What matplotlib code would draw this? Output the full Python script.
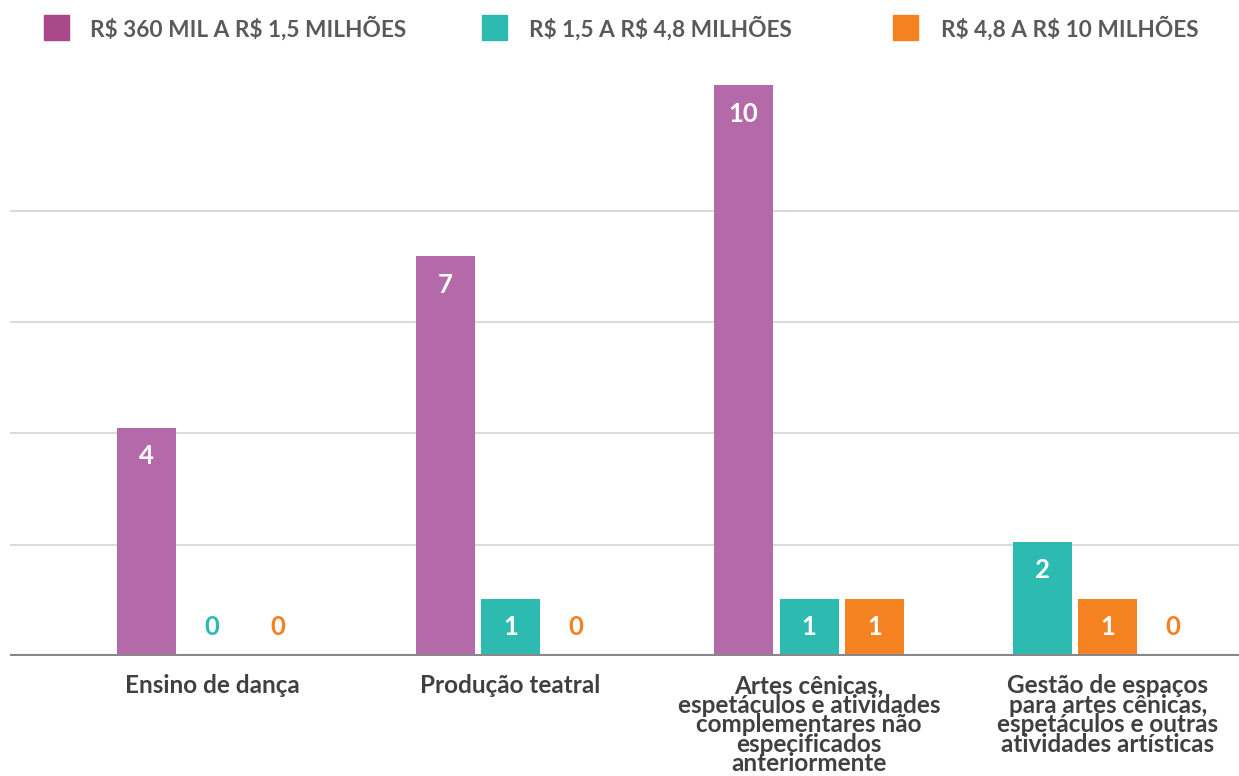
import numpy as np
import matplotlib
matplotlib.use("Agg")
import matplotlib.pyplot as plt
from matplotlib.patches import Rectangle

plt.rcParams['font.family'] = ['Lato', 'DejaVu Sans']

# data, as drawn slot by slot in each group
categories = [
    "Ensino de dança",
    "Produção teatral",
    "Artes cênicas,\nespetáculos e atividades\ncomplementares não\nespecificados\nanteriormente",
    "Gestão de espaços\npara artes cênicas,\nespetáculos e outras\natividades artísticas",
]
series_names = ["R$ 360 MIL A R$ 1,5 MILHÕES", "R$ 1,5 A R$ 4,8 MILHÕES", "R$ 4,8 A R$ 10 MILHÕES"]
slot1 = [4, 7, 10, 2]
slot2 = [0, 1, 1, 1]
slot3 = [0, 0, 1, 0]

purple = "#b46aa8"
purple_dark = "#a8478a"
teal = "#2dbbb1"
orange = "#f58220"

# colour of each slot per group (last group is shifted in the source chart)
slot1_colors = [purple, purple, purple, teal]
slot2_colors = [teal, teal, teal, orange]
slot3_colors = [orange, orange, orange, orange]

grid_values = [1.95, 3.9, 5.85, 7.8]

fig = plt.figure(figsize=(12.39, 7.76), dpi=100)
ax = fig.add_axes([10 / 1239, 120 / 776, 1229 / 1239, 596 / 776])

x = np.arange(len(categories))
step = 0.2194
width = 0.1977

for off, vals, cols in [(-step, slot1, slot1_colors), (0, slot2, slot2_colors), (step, slot3, slot3_colors)]:
    ax.bar(x + off, vals, width=width, color=cols, zorder=3)
    for xi, v, c in zip(x + off, vals, cols):
        txt_color = "white" if v > 0 else c
        ax.text(xi, max(v, 1) - 0.5, str(v), ha="center", va="center",
                fontsize=18.5, fontweight="bold", color=txt_color, zorder=4)

ax.set_xlim(-0.677, 3.44)
ax.set_ylim(0, 10.44)

for g in grid_values:
    ax.axhline(g, color="#d4d4d4", lw=1.2, zorder=1)
ax.axhline(0, color="#888888", lw=3, zorder=5)

for s in ax.spines.values():
    s.set_visible(False)
ax.set_yticks([])
ax.set_xticks(x)
ax.set_xticklabels(categories, fontsize=17.5, fontweight="bold", color="#404040",
                   linespacing=0.82, va="top")
ax.tick_params(axis="x", length=0, pad=13)

# legend drawn across the top
legend_items = [(44, purple_dark, 90), (482, teal, 529), (893, orange, 941)]
for (sx, col, tx), name in zip(legend_items, series_names):
    fig.add_artist(Rectangle((sx / 1239, 1 - 40 / 776), 25 / 1239, 25 / 776,
                             transform=fig.transFigure, color=col))
    fig.text(tx / 1239, 1 - 28 / 776, name, ha="left", va="center", parse_math=False,
             fontsize=16.3, fontweight="bold", color="#5a5a5a")

fig.savefig("out.png", dpi=100)
